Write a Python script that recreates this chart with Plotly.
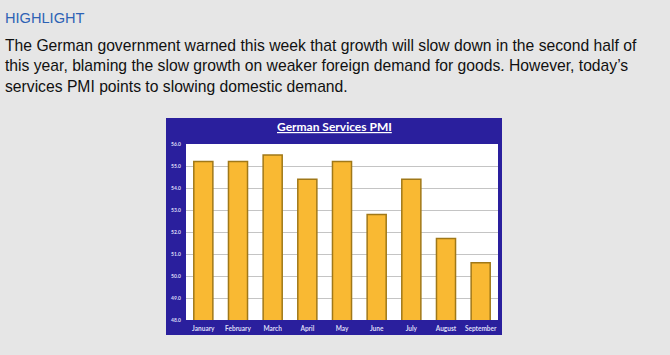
import plotly.graph_objects as go

months = ["January", "February", "March", "April", "May", "June", "July", "August", "September"]
pmi = [55.2, 55.2, 55.5, 54.4, 55.2, 52.8, 54.4, 51.7, 50.6]
y_ticks = [48, 49, 50, 51, 52, 53, 54, 55, 56]
y_tick_labels = [f"{v:.1f}" for v in y_ticks]

chart_title = "German Services PMI"
heading = "HIGHLIGHT"
body = ("The German government warned this week that growth will slow down in the second half of<br>"
        "this year, blaming the slow growth on weaker foreign demand for goods. However, today\u2019s<br>"
        "services PMI points to slowing domestic demand.")

W, H = 670, 355
L, R, T, B = 186, 172, 144, 35
PW, PH = W - L - R, H - T - B


def px(x):
    return (x - L) / PW


def py(y):
    return (H - B - y) / PH


fig = go.Figure()
fig.add_trace(go.Bar(
    x=months, y=pmi, base=0,
    marker=dict(color="#F9B933", line=dict(color="#A07818", width=1.5)),
    hoverinfo="skip",
))

fig.update_layout(
    width=W, height=H,
    margin=dict(l=L, r=R, t=T, b=B),
    paper_bgcolor="#e6e6e6",
    plot_bgcolor="#ffffff",
    showlegend=False,
    bargap=0.45,
    xaxis=dict(
        showgrid=False, zeroline=False, showline=False,
        tickfont=dict(family="Lato", size=6.5, color="#dcdcf6", weight="bold"),
        ticks="", ticklabelstandoff=3,
    ),
    yaxis=dict(
        range=[48, 56], tickvals=y_ticks, ticktext=y_tick_labels,
        showgrid=True, gridcolor="#c4c4c4", gridwidth=1,
        zeroline=False, showline=False, ticks="",
        tickfont=dict(family="Lato", size=5, color="#dcdcf6", weight="bold"),
        ticklabelstandoff=4,
    ),
    shapes=[
        dict(type="rect", xref="paper", yref="paper", layer="below",
             x0=px(166), x1=px(502), y0=py(335), y1=py(118),
             fillcolor="#2A1F9D", line=dict(width=0)),
        dict(type="rect", xref="paper", yref="paper", layer="below",
             x0=0, x1=1, y0=0, y1=1,
             fillcolor="#ffffff", line=dict(width=0)),
    ],
    annotations=[
        dict(text="<u>" + chart_title + "</u>", xref="paper", yref="paper",
             x=px(334), y=py(126), xanchor="center", yanchor="middle", showarrow=False,
             font=dict(family="Lato", size=12, color="#ffffff", weight="bold")),
        dict(text=heading, xref="paper", yref="paper",
             x=px(3), y=py(18), xanchor="left", yanchor="middle", showarrow=False,
             font=dict(family="Liberation Sans", size=14.6, color="#2D62B5")),
        dict(text=body, xref="paper", yref="paper", align="left",
             x=px(3), y=py(35), xanchor="left", yanchor="top", showarrow=False,
             font=dict(family="Liberation Sans", size=15.7, color="#111111")),
    ],
)

fig.write_html("out.html")
